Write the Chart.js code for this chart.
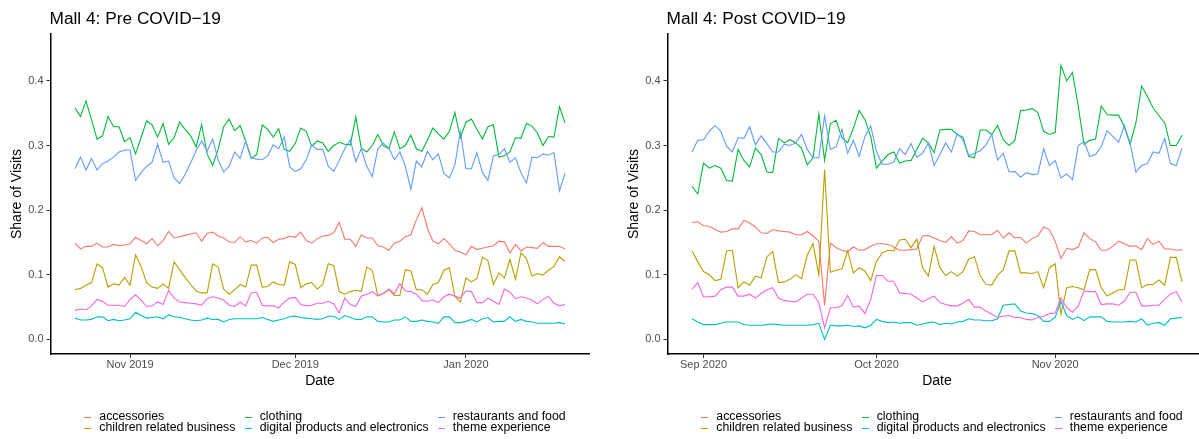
<!DOCTYPE html>
<html>
<head>
<meta charset="utf-8">
<title>Mall 4: share of visits by business type</title>
<script src="https://cdn.jsdelivr.net/npm/chart.js@4.4.1/dist/chart.umd.min.js"></script>
<style>
  html, body { margin: 0; padding: 0; background: #fff; }
  body { width: 1199px; height: 439px; overflow: hidden; position: relative;
         font-family: "Liberation Sans", Arial, sans-serif; }
  .panel { position: absolute; top: 0; width: 617px; height: 439px; }
  .panel canvas { position: absolute; left: 0; top: 0; }
  .key { position: absolute; width: 7px; height: 1px; }
  .lab { position: absolute; font-size: 12.3px; line-height: 14px; white-space: nowrap; color: #000; }
</style>
</head>
<body>
<div class="panel" id="prePanel" style="left:0"><canvas id="preChart" width="617" height="439"></canvas></div>
<div class="panel" id="postPanel" style="left:617px"><canvas id="postChart" width="617" height="439"></canvas></div>
<script>
// Business categories, in legend order, and their line colours
const categories = ["accessories", "children related business", "clothing",
                    "digital products and electronics", "restaurants and food", "theme experience"];
const seriesColors = ["#F8766D", "#B79F00", "#00BA38", "#00BFC4", "#619CFF", "#F564E3"];

// Axis tick values / month names for date labels
const yTicks = [0, 0.1, 0.2, 0.3, 0.4];
const monthNames = ["Jan", "Feb", "Mar", "Apr", "May", "Jun", "Jul", "Aug", "Sep", "Oct", "Nov", "Dec"];

// First day of each series [year, monthIndex, day]; one value per day
const preStart = [2019, 9, 22];   // 22 Oct 2019 .. 19 Jan 2020
const postStart = [2020, 7, 30];  // 30 Aug 2020 .. 23 Nov 2020

// ---- Pre COVID-19 daily share of visits ----
const preAccessories = [0.149,0.140,0.144,0.144,0.149,0.143,0.143,0.147,0.145,0.146,0.148,0.158,0.153,0.148,0.156,0.145,0.153,0.167,0.157,0.159,0.161,0.163,0.165,0.152,0.164,0.166,0.160,0.157,0.151,0.150,0.159,
  0.151,0.153,0.149,0.157,0.158,0.150,0.155,0.156,0.160,0.158,0.166,0.153,0.149,0.156,0.160,0.161,0.165,0.181,0.155,0.155,0.144,0.162,0.157,0.157,0.145,0.143,0.138,0.149,0.152,0.159,0.162,0.185,0.204,
  0.172,0.152,0.148,0.156,0.148,0.138,0.135,0.131,0.144,0.139,0.141,0.143,0.145,0.152,0.151,0.134,0.147,0.137,0.143,0.142,0.141,0.150,0.144,0.144,0.144,0.140];
const preChildren = [0.077,0.079,0.084,0.088,0.117,0.111,0.081,0.086,0.084,0.096,0.084,0.131,0.113,0.088,0.081,0.079,0.086,0.079,0.120,0.108,0.096,0.085,0.075,0.072,0.072,0.117,0.112,0.078,0.070,
  0.077,0.085,0.081,0.115,0.115,0.081,0.082,0.089,0.085,0.084,0.120,0.116,0.080,0.086,0.088,0.078,0.085,0.117,0.114,0.074,0.070,0.074,0.076,0.074,0.112,0.107,0.068,0.071,0.077,0.068,0.068,0.108,0.106,0.077,0.077,0.070,
  0.085,0.088,0.107,0.111,0.067,0.058,0.095,0.089,0.094,0.127,0.122,0.085,0.103,0.095,0.124,0.093,0.134,0.125,0.098,0.102,0.100,0.107,0.113,0.128,0.121];
const preClothing = [0.358,0.345,0.369,0.340,0.310,0.315,0.345,0.329,0.329,0.306,0.312,0.287,0.312,0.338,0.332,0.313,0.334,0.302,0.312,0.336,0.325,0.315,0.298,0.332,0.287,0.269,0.294,0.329,0.341,0.323,0.331,
  0.307,0.280,0.286,0.332,0.325,0.313,0.326,0.294,0.291,0.303,0.327,0.322,0.299,0.307,0.304,0.291,0.300,0.305,0.302,0.301,0.344,0.296,0.290,0.300,0.317,0.300,0.295,0.321,0.295,0.300,0.316,0.295,0.291,
  0.308,0.327,0.318,0.310,0.322,0.351,0.312,0.336,0.341,0.325,0.310,0.329,0.332,0.282,0.284,0.290,0.312,0.311,0.334,0.330,0.319,0.300,0.314,0.313,0.360,0.335];
const preDigital = [0.033,0.030,0.030,0.031,0.035,0.035,0.029,0.031,0.029,0.030,0.032,0.042,0.037,0.033,0.034,0.035,0.032,0.038,0.035,0.034,0.032,0.030,0.029,0.030,0.033,0.031,0.031,0.027,0.031,
  0.032,0.032,0.032,0.032,0.032,0.034,0.031,0.028,0.030,0.032,0.035,0.036,0.034,0.033,0.032,0.031,0.032,0.036,0.036,0.031,0.037,0.034,0.031,0.031,0.035,0.035,0.028,0.027,0.027,0.030,0.030,0.035,0.028,0.028,0.030,0.028,
  0.027,0.025,0.035,0.035,0.026,0.026,0.028,0.031,0.027,0.032,0.034,0.027,0.028,0.028,0.035,0.028,0.031,0.028,0.027,0.025,0.025,0.025,0.025,0.026,0.024];
const preRestaurants = [0.264,0.282,0.262,0.280,0.262,0.272,0.276,0.282,0.290,0.293,0.293,0.246,0.258,0.268,0.274,0.302,0.274,0.276,0.250,0.241,0.255,0.273,0.292,0.307,0.291,0.310,0.278,0.259,0.268,
  0.290,0.280,
  0.307,0.281,0.279,0.278,0.284,0.301,0.295,0.313,0.267,0.260,0.264,0.278,0.301,0.294,0.294,0.268,0.260,0.277,0.295,0.309,0.275,0.295,0.268,0.252,0.295,0.304,0.296,0.278,0.290,0.268,0.232,0.276,0.267,
  0.291,0.278,0.287,0.257,0.250,0.270,0.322,0.264,0.264,0.289,0.258,0.246,0.284,0.286,0.295,0.274,0.281,0.258,0.242,0.282,0.281,0.287,0.285,0.289,0.230,0.257];
const preTheme = [0.045,0.047,0.046,0.052,0.062,0.059,0.053,0.053,0.053,0.051,0.062,0.069,0.061,0.051,0.052,0.058,0.054,0.076,0.064,0.058,0.057,0.056,0.055,0.053,0.063,0.066,0.064,0.061,0.053,
  0.051,0.058,0.052,0.072,0.073,0.053,0.052,0.052,0.049,0.058,0.064,0.065,0.054,0.052,0.053,0.056,0.056,0.059,0.055,0.041,0.064,0.054,0.051,0.067,0.070,0.074,0.067,0.071,0.078,0.071,0.086,0.075,0.074,0.070,0.060,0.059,
  0.061,0.057,0.066,0.070,0.067,0.064,0.075,0.074,0.057,0.057,0.064,0.059,0.054,0.078,0.073,0.063,0.066,0.064,0.061,0.055,0.062,0.067,0.056,0.052,0.054];

// ---- Post COVID-19 daily share of visits ----
const postAccessories = [0.181,0.182,0.176,0.175,0.170,0.166,0.167,0.171,0.171,0.184,0.180,0.174,0.165,0.164,0.170,0.168,0.167,0.166,0.162,0.162,0.167,0.160,0.152,0.053,0.149,0.142,
  0.138,0.136,0.143,0.138,0.139,0.144,0.148,0.148,0.147,0.143,0.138,0.138,0.139,0.140,0.160,0.161,0.157,0.153,0.150,0.159,0.149,0.153,0.168,0.167,0.162,0.162,0.162,0.169,0.157,0.165,0.157,0.158,0.149,
  0.156,0.160,0.174,0.170,0.152,0.125,0.141,0.139,0.143,0.165,0.156,0.151,0.138,0.138,0.144,0.152,0.148,0.144,0.145,0.139,0.156,0.147,0.152,0.140,0.140,0.138,0.139];
const postChildren = [0.137,0.120,0.105,0.100,0.091,0.093,0.137,0.138,0.080,0.089,0.084,0.098,0.095,0.128,0.136,0.088,0.089,0.093,0.100,0.094,0.131,0.148,0.100,0.263,0.104,0.107,
  0.109,0.137,0.103,0.111,0.106,0.091,0.121,0.134,0.138,0.137,0.154,0.155,0.142,0.155,0.111,0.098,0.144,0.111,0.099,0.105,0.098,0.105,0.124,0.128,0.098,0.085,0.084,0.099,0.108,0.137,0.137,0.103,0.103,
  0.102,0.105,0.080,0.111,0.117,0.039,0.080,0.082,0.080,0.077,0.108,0.108,0.080,0.067,0.072,0.077,0.077,0.123,0.123,0.080,0.085,0.085,0.092,0.084,0.127,0.127,0.089];
const postClothing = [0.237,0.225,0.273,0.265,0.269,0.265,0.246,0.245,0.294,0.277,0.267,0.296,0.286,0.259,0.258,0.311,0.304,0.309,0.304,0.296,0.270,0.281,0.349,0.277,0.334,0.339,
  0.312,0.304,0.327,0.354,0.340,0.314,0.265,0.276,0.286,0.290,0.273,0.276,0.277,0.294,0.311,0.304,0.289,0.324,0.325,0.325,0.317,0.313,0.283,0.281,0.324,0.324,0.317,0.331,0.309,0.300,0.308,0.354,0.355,
  0.357,0.351,0.322,0.317,0.320,0.424,0.400,0.413,0.361,0.302,0.308,0.310,0.361,0.348,0.347,0.347,0.329,0.302,0.335,0.392,0.376,0.358,0.346,0.335,0.300,0.300,0.316];
const postDigital = [0.032,0.027,0.023,0.023,0.023,0.025,0.027,0.027,0.027,0.023,0.022,0.022,0.022,0.023,0.024,0.023,0.022,0.022,0.022,0.022,0.022,0.023,0.025,0.000,0.022,0.021,
  0.021,0.022,0.020,0.021,0.018,0.022,0.031,0.028,0.026,0.027,0.025,0.026,0.026,0.022,0.024,0.026,0.027,0.023,0.025,0.024,0.027,0.028,0.032,0.030,0.030,0.029,0.029,0.032,0.053,0.054,0.055,0.044,0.041,
  0.040,0.037,0.028,0.028,0.034,0.059,0.037,0.031,0.035,0.029,0.035,0.035,0.035,0.028,0.027,0.027,0.027,0.028,0.027,0.032,0.022,0.025,0.026,0.022,0.032,0.033,0.034];
const postRestaurants = [0.290,0.308,0.309,0.322,0.331,0.322,0.299,0.290,0.312,0.311,0.329,0.301,0.315,0.303,0.290,0.290,0.302,0.300,0.304,0.317,0.294,0.281,0.281,0.346,0.294,0.298,
  0.325,0.288,0.308,0.283,0.314,0.330,0.291,0.271,0.271,0.274,0.295,0.286,0.303,0.282,0.288,0.304,0.269,0.286,0.304,0.290,0.318,0.309,0.284,0.288,0.292,0.301,0.317,0.277,0.288,0.259,0.260,0.251,0.258,
  0.255,0.256,0.295,0.269,0.277,0.250,0.256,0.247,0.300,0.306,0.283,0.286,0.298,0.323,0.314,0.305,0.331,0.304,0.259,0.269,0.272,0.290,0.288,0.311,0.272,0.269,0.296];
const postTheme = [0.078,0.088,0.066,0.066,0.067,0.077,0.081,0.081,0.067,0.067,0.070,0.064,0.071,0.077,0.080,0.064,0.060,0.059,0.058,0.064,0.070,0.070,0.057,0.018,0.049,0.049,
  0.052,0.068,0.050,0.052,0.040,0.062,0.099,0.099,0.090,0.090,0.072,0.071,0.070,0.064,0.058,0.063,0.067,0.057,0.054,0.052,0.052,0.056,0.062,0.050,0.050,0.044,0.039,0.034,0.036,0.037,0.034,0.034,0.031,
  0.030,0.034,0.036,0.040,0.041,0.064,0.049,0.042,0.052,0.075,0.074,0.074,0.054,0.055,0.055,0.053,0.059,0.073,0.073,0.052,0.052,0.053,0.053,0.062,0.070,0.074,0.058];

const FONT = '"Liberation Sans", Arial, sans-serif';

// Day offset (from the series start) of the 1st of a given month
function dayOffset(start, y, m) {
  return Math.round((Date.UTC(y, m, 1) - Date.UTC(start[0], start[1], start[2])) / 86400000);
}
// Month-start ticks falling inside the series
function monthTicks(start, n) {
  const out = [];
  let y = start[0], m = start[1] + 1;
  if (m > 11) { m = 0; y++; }
  for (;;) {
    const d = dayOffset(start, y, m);
    if (d > n - 1) break;
    out.push({ value: d, label: monthNames[m] + " " + y });
    m++; if (m > 11) { m = 0; y++; }
  }
  return out;
}

// Panel heading drawn left-aligned with the plotting area
const panelTitle = {
  id: "panelTitle",
  afterDraw(chart, args, opts) {
    const ctx = chart.ctx;
    ctx.save();
    ctx.font = "17.3px " + FONT;
    ctx.fillStyle = "#000";
    ctx.textAlign = "left";
    ctx.textBaseline = "alphabetic";
    ctx.fillText(opts.text, chart.chartArea.left - 1, 23.5);
    ctx.restore();
  }
};

const axisLine = { display: true, color: "#000", width: 1.5 };
const tickMarks = { display: true, drawOnChartArea: false, drawTicks: true, tickLength: 4, color: "#333333", lineWidth: 1 };

function makeChart(canvasId, titleText, start, series) {
  const n = series[0].length;
  const span = n - 1;
  const xTicks = monthTicks(start, n);
  return new Chart(document.getElementById(canvasId), {
    type: "line",
    data: {
      datasets: series.map((vals, k) => ({
        label: categories[k],
        data: vals.map((v, i) => ({ x: i, y: v })),
        borderColor: seriesColors[k],
        backgroundColor: seriesColors[k],
        borderWidth: 1.1,
        pointRadius: 0,
        tension: 0,
        fill: false,
        order: series.length - k
      }))
    },
    options: {
      responsive: false,
      animation: false,
      devicePixelRatio: 1,
      layout: { padding: { top: 34, right: 27.5, bottom: 0, left: 0 } },
      plugins: {
        legend: { display: false },
        tooltip: { enabled: false },
        panelTitle: { text: titleText }
      },
      scales: {
        x: {
          type: "linear",
          min: -0.05 * span,
          max: span * 1.05,
          afterFit: s => { s.height = 85; },
          afterBuildTicks: s => { s.ticks = xTicks.map(t => ({ value: t.value })); },
          ticks: {
            autoSkip: false, maxRotation: 0, padding: 0.5,
            color: "#4D4D4D", font: { family: FONT, size: 11 },
            callback: v => { const t = xTicks.find(q => q.value === v); return t ? t.label : ""; }
          },
          grid: tickMarks,
          border: axisLine,
          title: { display: true, text: "Date", color: "#000", font: { family: FONT, size: 14 },
                   padding: { top: 0, bottom: 49.6 } }
        },
        y: {
          type: "linear",
          min: -0.0225,
          max: 0.4725,
          afterFit: s => { s.width = 50.5; },
          afterBuildTicks: s => { s.ticks = yTicks.map(v => ({ value: v })); },
          ticks: {
            padding: 3, color: "#4D4D4D", font: { family: FONT, size: 11 },
            callback: v => Number(v).toFixed(1)
          },
          grid: tickMarks,
          border: axisLine,
          title: { display: true, text: "Share of Visits", color: "#000", font: { family: FONT, size: 14 },
                   padding: { top: 8.3, bottom: 0 } }
        }
      }
    },
    plugins: [panelTitle]
  });
}

// Legend: 3 columns x 2 rows, filled column by column
const legendTextX = [99.3, 259.7, 452.8];
const legendBaseline = [420.5, 431.5];
function buildLegend(panelId) {
  const panel = document.getElementById(panelId);
  categories.forEach((name, k) => {
    const col = Math.floor(k / 2), row = k % 2;
    const tx = legendTextX[col], base = legendBaseline[row];
    const key = document.createElement("div");
    key.className = "key";
    key.style.left = Math.round(tx - 15) + "px";
    key.style.top = Math.round(base - 4) + "px";
    key.style.background = seriesColors[k];
    panel.appendChild(key);
    const lab = document.createElement("div");
    lab.className = "lab";
    lab.style.left = tx + "px";
    lab.style.top = (base - 11.26) + "px";
    lab.textContent = name;
    panel.appendChild(lab);
  });
}

makeChart("preChart", "Mall 4: Pre COVID\u221219", preStart,
  [preAccessories, preChildren, preClothing, preDigital, preRestaurants, preTheme]);
makeChart("postChart", "Mall 4: Post COVID\u221219", postStart,
  [postAccessories, postChildren, postClothing, postDigital, postRestaurants, postTheme]);
buildLegend("prePanel");
buildLegend("postPanel");
</script>
</body>
</html>
